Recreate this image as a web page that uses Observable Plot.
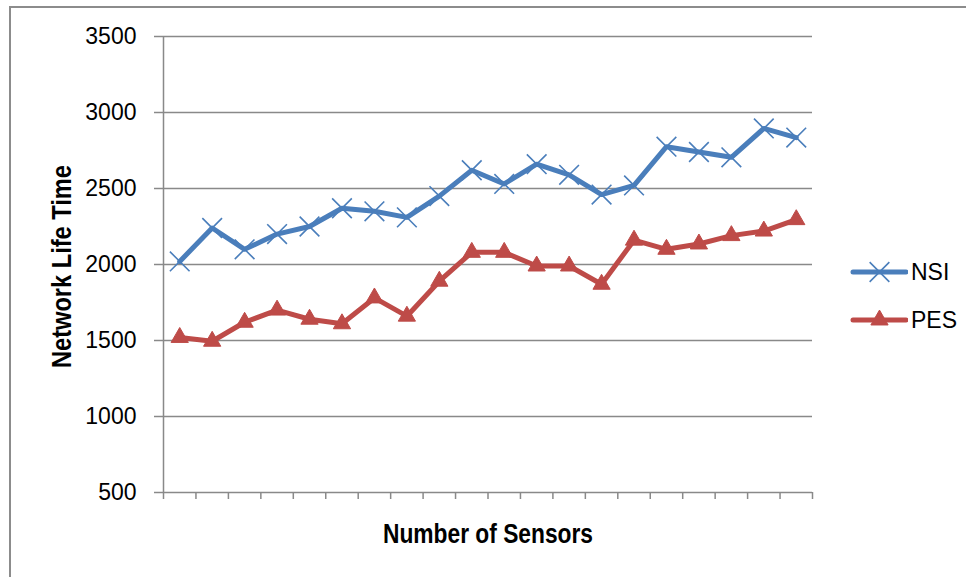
<!DOCTYPE html>
<html>
<head>
<meta charset="utf-8">
<script src="https://cdn.jsdelivr.net/npm/d3@7"></script>
<script src="https://cdn.jsdelivr.net/npm/@observablehq/plot@0.6"></script>
<style>
  html, body { margin: 0; padding: 0; background: #fff; overflow: hidden; }
  #wrap { position: relative; width: 966px; height: 577px; }
  #frame { position: absolute; left: 9px; top: 6px; width: 1000px; height: 620px;
           border: 2px solid #8c8c8c; box-sizing: border-box; }
  #chart { position: absolute; left: 0; top: 0; }
  #legend { position: absolute; left: 850px; top: 248px; font-family: "Liberation Sans", Arial, sans-serif;
            font-size: 23px; color: #000; }
  .item { display: flex; align-items: center; height: 48px; }
  .item svg { display: block; margin-right: 3px; }
</style>
</head>
<body>
<div id="wrap">
  <div id="frame"></div>
  <div id="chart"></div>
  <div id="legend"></div>
</div>
<script>
// Sensor count slots along the x axis (unlabelled categories)
const sensorSlots = [1, 2, 3, 4, 5, 6, 7, 8, 9, 10, 11, 12, 13, 14, 15, 16, 17, 18, 19, 20];
// Network life time per slot
const nsi = [2020, 2240, 2100, 2200, 2250, 2370, 2350, 2310, 2450, 2620,
             2530, 2660, 2590, 2460, 2520, 2775, 2740, 2705, 2895, 2835];
const pes = [1520, 1495, 1620, 1700, 1640, 1610, 1780, 1660, 1890, 2080,
             2080, 1990, 1990, 1870, 2160, 2100, 2135, 2190, 2220, 2295];
const yTicks = [500, 1000, 1500, 2000, 2500, 3000, 3500];
const seriesNames = ["NSI", "PES"];
const seriesColors = ["#4a7ebb", "#be4b48"];
const xTitle = "Number of Sensors";
const yTitle = "Network Life Time";

const rows = sensorSlots.flatMap((s, i) => [
  {slot: s, value: nsi[i], series: seriesNames[0]},
  {slot: s, value: pes[i], series: seriesNames[1]}
]);
// category boundaries carry the x tick marks
const boundaries = [sensorSlots[0] - 0.5, ...sensorSlots.map(s => s + 0.5)];

const gridColor = "#898989";
const titleFont = "'Liberation Sans Narrow', 'Arial Narrow', 'Liberation Sans', sans-serif";

const chart = Plot.plot({
  width: 966,
  height: 577,
  marginLeft: 163,
  marginRight: 154,
  marginTop: 36,
  marginBottom: 85,
  style: {fontFamily: "'Liberation Sans', Arial, sans-serif", fontSize: "23px", color: "#000", background: "transparent", overflow: "visible"},
  x: {type: "linear", domain: [boundaries[0], boundaries[boundaries.length - 1]]},
  y: {domain: [yTicks[0], yTicks[yTicks.length - 1]]},
  color: {domain: seriesNames, range: seriesColors},
  marks: [
    Plot.gridY(yTicks, {stroke: gridColor, strokeOpacity: 1, strokeWidth: 1.5}),
    Plot.ruleX([boundaries[0]], {stroke: gridColor, strokeWidth: 1.5}),
    Plot.axisY(yTicks, {tickSize: 9, tickPadding: 18, tickFormat: d => String(d), stroke: gridColor, strokeWidth: 1.5, label: null}),
    Plot.axisX(boundaries, {tickSize: 7, tickFormat: () => "", stroke: gridColor, strokeWidth: 1.5, label: null}),
    Plot.line(rows, {x: "slot", y: "value", z: "series", stroke: "series", strokeWidth: 5,
                     strokeLinejoin: "round", strokeLinecap: "round"}),
    Plot.dot(rows.filter(d => d.series === seriesNames[0]), {x: "slot", y: "value", symbol: "times",
                     r: 9, stroke: seriesColors[0], strokeWidth: 1.6}),
    Plot.dot(rows.filter(d => d.series === seriesNames[1]), {x: "slot", y: "value", symbol: "triangle",
                     r: 6.4, fill: seriesColors[1], stroke: seriesColors[1], strokeWidth: 1}),
    Plot.text([yTitle], {text: d => d, frameAnchor: "left", rotate: -90, dx: -101, dy: 2,
                     textAnchor: "middle", className: "axis-title",
                     fontFamily: titleFont, fontWeight: "bold", fontSize: 27.5, fill: "#000"}),
    Plot.text([xTitle], {text: d => d, frameAnchor: "bottom", dy: 50, textAnchor: "middle",
                     className: "axis-title",
                     fontFamily: titleFont, fontWeight: "bold", fontSize: 27.5, fill: "#000"})
  ]
});
document.getElementById("chart").appendChild(chart);

// the titles are set in a narrow face: squeeze them to a condensed width
const condensed = {[xTitle]: 210, [yTitle]: 203};
d3.select(chart).selectAll("text").each(function () {
  const t = this.textContent;
  if (t in condensed) {
    d3.select(this).attr("textLength", condensed[t]).attr("lengthAdjust", "spacingAndGlyphs");
  }
});

// legend: line with marker, then series name
const legend = d3.select("#legend");
seriesNames.forEach((name, i) => {
  const item = legend.append("div").attr("class", "item");
  const svg = item.append("svg").attr("width", 58).attr("height", 30);
  svg.append("line").attr("x1", 3).attr("x2", 56).attr("y1", 15).attr("y2", 15)
    .attr("stroke", seriesColors[i]).attr("stroke-width", 5).attr("stroke-linecap", "round");
  if (i === 0) {
    svg.append("path").attr("transform", "translate(29.5,15)")
      .attr("d", d3.symbol(d3.symbolTimes, Math.PI * 81)())
      .attr("fill", "none").attr("stroke", seriesColors[i]).attr("stroke-width", 1.6);
  } else {
    svg.append("path").attr("transform", "translate(29.5,15)")
      .attr("d", d3.symbol(d3.symbolTriangle, Math.PI * 6.4 * 6.4)())
      .attr("fill", seriesColors[i]).attr("stroke", seriesColors[i]);
  }
  item.append("span").text(name);
});
</script>
</body>
</html>
